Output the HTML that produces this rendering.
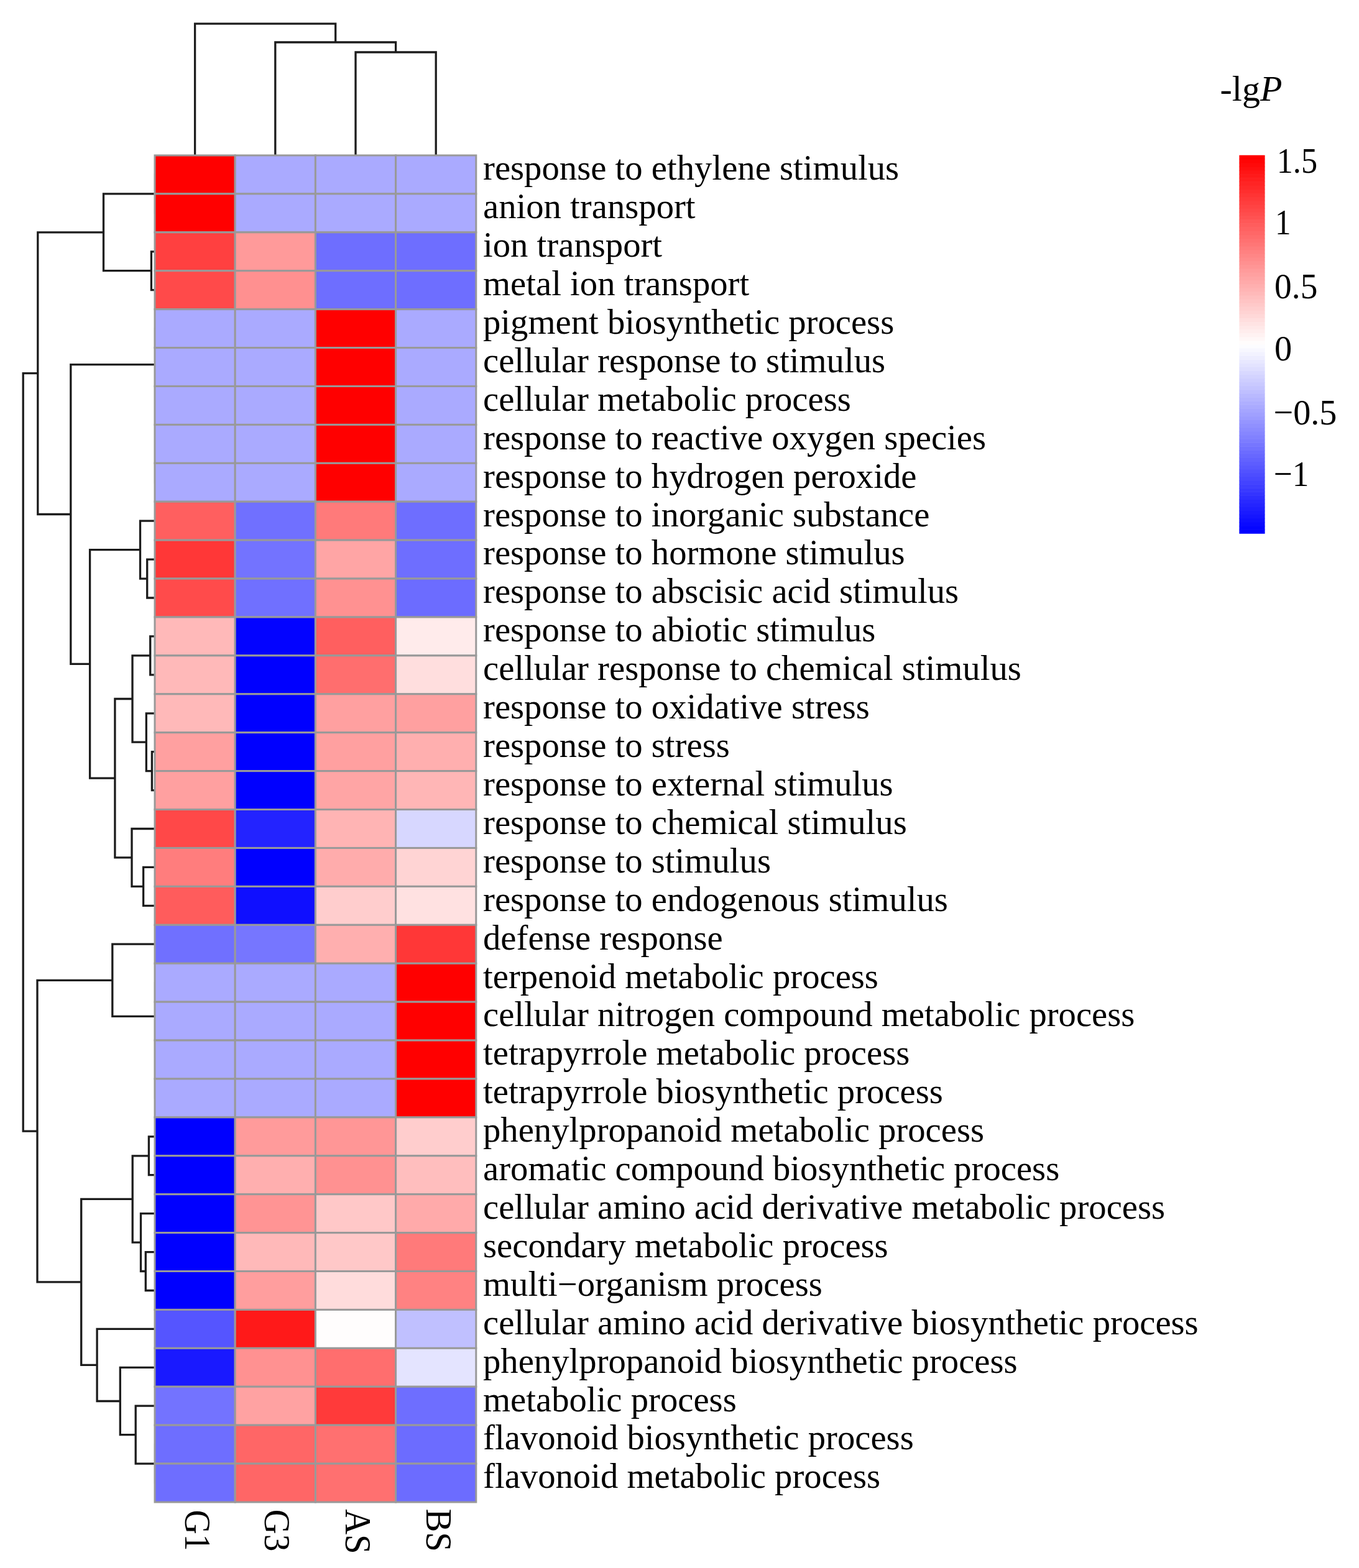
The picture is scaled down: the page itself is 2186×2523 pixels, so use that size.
<!DOCTYPE html><html><head><meta charset="utf-8"><style>html,body{margin:0;padding:0;background:#fff;width:2186px;height:2523px;overflow:hidden}svg{display:block}text{font-family:"Liberation Serif","Times New Roman",serif;fill:#000}</style></head><body>
<svg width="2186" height="2523" viewBox="0 0 2186 2523">
<rect width="2186" height="2523" fill="#fff"/>
<path d="M249.6 281.0L249.6 342.9 M243.4 404.8L249.6 404.8 M243.4 466.7L249.6 466.7 M243.4 404.8L243.4 466.7 M166.5 311.9L249.6 311.9 M166.5 435.7L243.4 435.7 M166.5 311.9L166.5 435.7 M249.6 714.4L249.6 776.3 M249.6 652.4L249.6 745.3 M249.6 590.5L249.6 698.9 M249.6 528.6L249.6 644.7 M236.7 900.1L249.6 900.1 M236.7 962.0L249.6 962.0 M236.7 900.1L236.7 962.0 M225.5 838.2L249.6 838.2 M225.5 931.1L236.7 931.1 M225.5 838.2L225.5 931.1 M241.7 1023.9L249.6 1023.9 M241.7 1085.8L249.6 1085.8 M241.7 1023.9L241.7 1085.8 M244.4 1209.7L249.6 1209.7 M244.4 1271.6L249.6 1271.6 M244.4 1209.7L244.4 1271.6 M235.3 1147.8L249.6 1147.8 M235.3 1240.6L244.4 1240.6 M235.3 1147.8L235.3 1240.6 M213.0 1054.9L241.7 1054.9 M213.0 1194.2L235.3 1194.2 M213.0 1054.9L213.0 1194.2 M230.6 1395.4L249.6 1395.4 M230.6 1457.3L249.6 1457.3 M230.6 1395.4L230.6 1457.3 M212.0 1333.5L249.6 1333.5 M212.0 1426.4L230.6 1426.4 M212.0 1333.5L212.0 1426.4 M184.9 1124.5L213.0 1124.5 M184.9 1379.9L212.0 1379.9 M184.9 1124.5L184.9 1379.9 M144.6 884.6L225.5 884.6 M144.6 1252.2L184.9 1252.2 M144.6 884.6L144.6 1252.2 M113.8 586.7L249.6 586.7 M113.8 1068.4L144.6 1068.4 M113.8 586.7L113.8 1068.4 M60.8 373.8L166.5 373.8 M60.8 827.5L113.8 827.5 M60.8 373.8L60.8 827.5 M249.6 1705.0L249.6 1766.9 M249.6 1643.1L249.6 1735.9 M249.6 1581.2L249.6 1689.5 M180.8 1519.2L249.6 1519.2 M180.8 1635.3L249.6 1635.3 M180.8 1519.2L180.8 1635.3 M239.4 1828.8L249.6 1828.8 M239.4 1890.7L249.6 1890.7 M239.4 1828.8L239.4 1890.7 M234.3 2014.6L249.6 2014.6 M234.3 2076.5L249.6 2076.5 M234.3 2014.6L234.3 2076.5 M226.5 1952.6L249.6 1952.6 M226.5 2045.5L234.3 2045.5 M226.5 1952.6L226.5 2045.5 M213.2 1859.8L239.4 1859.8 M213.2 1999.1L226.5 1999.1 M213.2 1859.8L213.2 1999.1 M249.6 2324.1L249.6 2386.0 M218.2 2262.2L249.6 2262.2 M218.2 2355.1L249.6 2355.1 M218.2 2262.2L218.2 2355.1 M193.3 2200.3L249.6 2200.3 M193.3 2308.6L218.2 2308.6 M193.3 2200.3L193.3 2308.6 M156.1 2138.4L249.6 2138.4 M156.1 2254.5L193.3 2254.5 M156.1 2138.4L156.1 2254.5 M130.7 1929.4L213.2 1929.4 M130.7 2196.4L156.1 2196.4 M130.7 1929.4L130.7 2196.4 M60.0 1577.3L180.8 1577.3 M60.0 2062.9L130.7 2062.9 M60.0 1577.3L60.0 2062.9 M37.2 600.7L60.8 600.7 M37.2 1820.1L60.0 1820.1 M37.2 600.7L37.2 1820.1 M572.0 84.0L572.0 249.0 M701.2 84.0L701.2 249.0 M572.0 84.0L701.2 84.0 M442.8 68.0L442.8 249.0 M636.6 68.0L636.6 84.0 M442.8 68.0L636.6 68.0 M313.6 38.1L313.6 249.0 M539.7 38.1L539.7 68.0 M313.6 38.1L539.7 38.1" fill="none" stroke="#1c1c1c" stroke-width="3.3" stroke-linecap="square"/>
<g stroke="#999" stroke-width="3">
<rect x="249.00" y="250.00" width="129.20" height="61.91" fill="#ff0000"/>
<rect x="378.20" y="250.00" width="129.20" height="61.91" fill="#aaaaff"/>
<rect x="507.40" y="250.00" width="129.20" height="61.91" fill="#aaaaff"/>
<rect x="636.60" y="250.00" width="129.20" height="61.91" fill="#aaaaff"/>
<rect x="249.00" y="311.91" width="129.20" height="61.91" fill="#ff0000"/>
<rect x="378.20" y="311.91" width="129.20" height="61.91" fill="#aaaaff"/>
<rect x="507.40" y="311.91" width="129.20" height="61.91" fill="#aaaaff"/>
<rect x="636.60" y="311.91" width="129.20" height="61.91" fill="#aaaaff"/>
<rect x="249.00" y="373.83" width="129.20" height="61.91" fill="#ff4040"/>
<rect x="378.20" y="373.83" width="129.20" height="61.91" fill="#ff9a9a"/>
<rect x="507.40" y="373.83" width="129.20" height="61.91" fill="#6e6eff"/>
<rect x="636.60" y="373.83" width="129.20" height="61.91" fill="#6e6eff"/>
<rect x="249.00" y="435.74" width="129.20" height="61.91" fill="#ff4a4a"/>
<rect x="378.20" y="435.74" width="129.20" height="61.91" fill="#ff9090"/>
<rect x="507.40" y="435.74" width="129.20" height="61.91" fill="#6e6eff"/>
<rect x="636.60" y="435.74" width="129.20" height="61.91" fill="#6e6eff"/>
<rect x="249.00" y="497.66" width="129.20" height="61.91" fill="#aaaaff"/>
<rect x="378.20" y="497.66" width="129.20" height="61.91" fill="#aaaaff"/>
<rect x="507.40" y="497.66" width="129.20" height="61.91" fill="#ff0000"/>
<rect x="636.60" y="497.66" width="129.20" height="61.91" fill="#aaaaff"/>
<rect x="249.00" y="559.57" width="129.20" height="61.91" fill="#aaaaff"/>
<rect x="378.20" y="559.57" width="129.20" height="61.91" fill="#aaaaff"/>
<rect x="507.40" y="559.57" width="129.20" height="61.91" fill="#ff0000"/>
<rect x="636.60" y="559.57" width="129.20" height="61.91" fill="#aaaaff"/>
<rect x="249.00" y="621.49" width="129.20" height="61.91" fill="#aaaaff"/>
<rect x="378.20" y="621.49" width="129.20" height="61.91" fill="#aaaaff"/>
<rect x="507.40" y="621.49" width="129.20" height="61.91" fill="#ff0000"/>
<rect x="636.60" y="621.49" width="129.20" height="61.91" fill="#aaaaff"/>
<rect x="249.00" y="683.40" width="129.20" height="61.91" fill="#aaaaff"/>
<rect x="378.20" y="683.40" width="129.20" height="61.91" fill="#aaaaff"/>
<rect x="507.40" y="683.40" width="129.20" height="61.91" fill="#ff0000"/>
<rect x="636.60" y="683.40" width="129.20" height="61.91" fill="#aaaaff"/>
<rect x="249.00" y="745.31" width="129.20" height="61.91" fill="#aaaaff"/>
<rect x="378.20" y="745.31" width="129.20" height="61.91" fill="#aaaaff"/>
<rect x="507.40" y="745.31" width="129.20" height="61.91" fill="#ff0000"/>
<rect x="636.60" y="745.31" width="129.20" height="61.91" fill="#aaaaff"/>
<rect x="249.00" y="807.23" width="129.20" height="61.91" fill="#ff5f5f"/>
<rect x="378.20" y="807.23" width="129.20" height="61.91" fill="#7070ff"/>
<rect x="507.40" y="807.23" width="129.20" height="61.91" fill="#ff7a7a"/>
<rect x="636.60" y="807.23" width="129.20" height="61.91" fill="#6e6eff"/>
<rect x="249.00" y="869.14" width="129.20" height="61.91" fill="#ff3737"/>
<rect x="378.20" y="869.14" width="129.20" height="61.91" fill="#7373ff"/>
<rect x="507.40" y="869.14" width="129.20" height="61.91" fill="#ffa5a5"/>
<rect x="636.60" y="869.14" width="129.20" height="61.91" fill="#6e6eff"/>
<rect x="249.00" y="931.06" width="129.20" height="61.91" fill="#ff4b4b"/>
<rect x="378.20" y="931.06" width="129.20" height="61.91" fill="#7070ff"/>
<rect x="507.40" y="931.06" width="129.20" height="61.91" fill="#ff9191"/>
<rect x="636.60" y="931.06" width="129.20" height="61.91" fill="#6c6cff"/>
<rect x="249.00" y="992.97" width="129.20" height="61.91" fill="#ffb9b9"/>
<rect x="378.20" y="992.97" width="129.20" height="61.91" fill="#0303ff"/>
<rect x="507.40" y="992.97" width="129.20" height="61.91" fill="#ff5f5f"/>
<rect x="636.60" y="992.97" width="129.20" height="61.91" fill="#ffebeb"/>
<rect x="249.00" y="1054.89" width="129.20" height="61.91" fill="#ffb9b9"/>
<rect x="378.20" y="1054.89" width="129.20" height="61.91" fill="#0000ff"/>
<rect x="507.40" y="1054.89" width="129.20" height="61.91" fill="#ff6e6e"/>
<rect x="636.60" y="1054.89" width="129.20" height="61.91" fill="#ffdede"/>
<rect x="249.00" y="1116.80" width="129.20" height="61.91" fill="#ffb9b9"/>
<rect x="378.20" y="1116.80" width="129.20" height="61.91" fill="#0000ff"/>
<rect x="507.40" y="1116.80" width="129.20" height="61.91" fill="#ffa0a0"/>
<rect x="636.60" y="1116.80" width="129.20" height="61.91" fill="#ffa0a0"/>
<rect x="249.00" y="1178.71" width="129.20" height="61.91" fill="#ffa0a0"/>
<rect x="378.20" y="1178.71" width="129.20" height="61.91" fill="#0000ff"/>
<rect x="507.40" y="1178.71" width="129.20" height="61.91" fill="#ffa0a0"/>
<rect x="636.60" y="1178.71" width="129.20" height="61.91" fill="#ffafaf"/>
<rect x="249.00" y="1240.63" width="129.20" height="61.91" fill="#ffa0a0"/>
<rect x="378.20" y="1240.63" width="129.20" height="61.91" fill="#0000ff"/>
<rect x="507.40" y="1240.63" width="129.20" height="61.91" fill="#ffa5a5"/>
<rect x="636.60" y="1240.63" width="129.20" height="61.91" fill="#ffb6b6"/>
<rect x="249.00" y="1302.54" width="129.20" height="61.91" fill="#ff4848"/>
<rect x="378.20" y="1302.54" width="129.20" height="61.91" fill="#2323ff"/>
<rect x="507.40" y="1302.54" width="129.20" height="61.91" fill="#ffb4b4"/>
<rect x="636.60" y="1302.54" width="129.20" height="61.91" fill="#d7d7ff"/>
<rect x="249.00" y="1364.46" width="129.20" height="61.91" fill="#ff7d7d"/>
<rect x="378.20" y="1364.46" width="129.20" height="61.91" fill="#0000ff"/>
<rect x="507.40" y="1364.46" width="129.20" height="61.91" fill="#ffacac"/>
<rect x="636.60" y="1364.46" width="129.20" height="61.91" fill="#ffd4d4"/>
<rect x="249.00" y="1426.37" width="129.20" height="61.91" fill="#ff5c5c"/>
<rect x="378.20" y="1426.37" width="129.20" height="61.91" fill="#0f0fff"/>
<rect x="507.40" y="1426.37" width="129.20" height="61.91" fill="#ffcdcd"/>
<rect x="636.60" y="1426.37" width="129.20" height="61.91" fill="#ffe1e1"/>
<rect x="249.00" y="1488.29" width="129.20" height="61.91" fill="#7070ff"/>
<rect x="378.20" y="1488.29" width="129.20" height="61.91" fill="#7676ff"/>
<rect x="507.40" y="1488.29" width="129.20" height="61.91" fill="#ffafaf"/>
<rect x="636.60" y="1488.29" width="129.20" height="61.91" fill="#ff3737"/>
<rect x="249.00" y="1550.20" width="129.20" height="61.91" fill="#aaaaff"/>
<rect x="378.20" y="1550.20" width="129.20" height="61.91" fill="#aaaaff"/>
<rect x="507.40" y="1550.20" width="129.20" height="61.91" fill="#aaaaff"/>
<rect x="636.60" y="1550.20" width="129.20" height="61.91" fill="#ff0000"/>
<rect x="249.00" y="1612.11" width="129.20" height="61.91" fill="#aaaaff"/>
<rect x="378.20" y="1612.11" width="129.20" height="61.91" fill="#aaaaff"/>
<rect x="507.40" y="1612.11" width="129.20" height="61.91" fill="#aaaaff"/>
<rect x="636.60" y="1612.11" width="129.20" height="61.91" fill="#ff0000"/>
<rect x="249.00" y="1674.03" width="129.20" height="61.91" fill="#aaaaff"/>
<rect x="378.20" y="1674.03" width="129.20" height="61.91" fill="#aaaaff"/>
<rect x="507.40" y="1674.03" width="129.20" height="61.91" fill="#aaaaff"/>
<rect x="636.60" y="1674.03" width="129.20" height="61.91" fill="#ff0000"/>
<rect x="249.00" y="1735.94" width="129.20" height="61.91" fill="#aaaaff"/>
<rect x="378.20" y="1735.94" width="129.20" height="61.91" fill="#aaaaff"/>
<rect x="507.40" y="1735.94" width="129.20" height="61.91" fill="#aaaaff"/>
<rect x="636.60" y="1735.94" width="129.20" height="61.91" fill="#ff0000"/>
<rect x="249.00" y="1797.86" width="129.20" height="61.91" fill="#0000ff"/>
<rect x="378.20" y="1797.86" width="129.20" height="61.91" fill="#ff9b9b"/>
<rect x="507.40" y="1797.86" width="129.20" height="61.91" fill="#ff9696"/>
<rect x="636.60" y="1797.86" width="129.20" height="61.91" fill="#ffcdcd"/>
<rect x="249.00" y="1859.77" width="129.20" height="61.91" fill="#0000ff"/>
<rect x="378.20" y="1859.77" width="129.20" height="61.91" fill="#ffafaf"/>
<rect x="507.40" y="1859.77" width="129.20" height="61.91" fill="#ff9191"/>
<rect x="636.60" y="1859.77" width="129.20" height="61.91" fill="#ffbebe"/>
<rect x="249.00" y="1921.69" width="129.20" height="61.91" fill="#0000ff"/>
<rect x="378.20" y="1921.69" width="129.20" height="61.91" fill="#ff9494"/>
<rect x="507.40" y="1921.69" width="129.20" height="61.91" fill="#ffc8c8"/>
<rect x="636.60" y="1921.69" width="129.20" height="61.91" fill="#ffaaaa"/>
<rect x="249.00" y="1983.60" width="129.20" height="61.91" fill="#0000ff"/>
<rect x="378.20" y="1983.60" width="129.20" height="61.91" fill="#ffb9b9"/>
<rect x="507.40" y="1983.60" width="129.20" height="61.91" fill="#ffc8c8"/>
<rect x="636.60" y="1983.60" width="129.20" height="61.91" fill="#ff7a7a"/>
<rect x="249.00" y="2045.51" width="129.20" height="61.91" fill="#0000ff"/>
<rect x="378.20" y="2045.51" width="129.20" height="61.91" fill="#ff9e9e"/>
<rect x="507.40" y="2045.51" width="129.20" height="61.91" fill="#ffdcdc"/>
<rect x="636.60" y="2045.51" width="129.20" height="61.91" fill="#ff8282"/>
<rect x="249.00" y="2107.43" width="129.20" height="61.91" fill="#5555ff"/>
<rect x="378.20" y="2107.43" width="129.20" height="61.91" fill="#ff1919"/>
<rect x="507.40" y="2107.43" width="129.20" height="61.91" fill="#fffdfd"/>
<rect x="636.60" y="2107.43" width="129.20" height="61.91" fill="#c0c0ff"/>
<rect x="249.00" y="2169.34" width="129.20" height="61.91" fill="#1919ff"/>
<rect x="378.20" y="2169.34" width="129.20" height="61.91" fill="#ff9191"/>
<rect x="507.40" y="2169.34" width="129.20" height="61.91" fill="#ff6e6e"/>
<rect x="636.60" y="2169.34" width="129.20" height="61.91" fill="#e4e4ff"/>
<rect x="249.00" y="2231.26" width="129.20" height="61.91" fill="#7373ff"/>
<rect x="378.20" y="2231.26" width="129.20" height="61.91" fill="#ffa2a2"/>
<rect x="507.40" y="2231.26" width="129.20" height="61.91" fill="#ff3a3a"/>
<rect x="636.60" y="2231.26" width="129.20" height="61.91" fill="#6e6eff"/>
<rect x="249.00" y="2293.17" width="129.20" height="61.91" fill="#6e6eff"/>
<rect x="378.20" y="2293.17" width="129.20" height="61.91" fill="#ff6666"/>
<rect x="507.40" y="2293.17" width="129.20" height="61.91" fill="#ff7070"/>
<rect x="636.60" y="2293.17" width="129.20" height="61.91" fill="#6c6cff"/>
<rect x="249.00" y="2355.09" width="129.20" height="61.91" fill="#6e6eff"/>
<rect x="378.20" y="2355.09" width="129.20" height="61.91" fill="#ff6666"/>
<rect x="507.40" y="2355.09" width="129.20" height="61.91" fill="#ff7070"/>
<rect x="636.60" y="2355.09" width="129.20" height="61.91" fill="#6c6cff"/>
</g>
<g font-size="56.7">
<text x="777.0" y="289.3">response to ethylene stimulus</text>
<text x="777.0" y="351.2">anion transport</text>
<text x="777.0" y="413.1">ion transport</text>
<text x="777.0" y="475.0">metal ion transport</text>
<text x="777.0" y="536.9">pigment biosynthetic process</text>
<text x="777.0" y="598.8">cellular response to stimulus</text>
<text x="777.0" y="660.7">cellular metabolic process</text>
<text x="777.0" y="722.7">response to reactive oxygen species</text>
<text x="777.0" y="784.6">response to hydrogen peroxide</text>
<text x="777.0" y="846.5">response to inorganic substance</text>
<text x="777.0" y="908.4">response to hormone stimulus</text>
<text x="777.0" y="970.3">response to abscisic acid stimulus</text>
<text x="777.0" y="1032.2">response to abiotic stimulus</text>
<text x="777.0" y="1094.1">cellular response to chemical stimulus</text>
<text x="777.0" y="1156.1">response to oxidative stress</text>
<text x="777.0" y="1218.0">response to stress</text>
<text x="777.0" y="1279.9">response to external stimulus</text>
<text x="777.0" y="1341.8">response to chemical stimulus</text>
<text x="777.0" y="1403.7">response to stimulus</text>
<text x="777.0" y="1465.6">response to endogenous stimulus</text>
<text x="777.0" y="1527.5">defense response</text>
<text x="777.0" y="1589.5">terpenoid metabolic process</text>
<text x="777.0" y="1651.4">cellular nitrogen compound metabolic process</text>
<text x="777.0" y="1713.3">tetrapyrrole metabolic process</text>
<text x="777.0" y="1775.2">tetrapyrrole biosynthetic process</text>
<text x="777.0" y="1837.1">phenylpropanoid metabolic process</text>
<text x="777.0" y="1899.0">aromatic compound biosynthetic process</text>
<text x="777.0" y="1960.9">cellular amino acid derivative metabolic process</text>
<text x="777.0" y="2022.9">secondary metabolic process</text>
<text x="777.0" y="2084.8">multi−organism process</text>
<text x="777.0" y="2146.7">cellular amino acid derivative biosynthetic process</text>
<text x="777.0" y="2208.6">phenylpropanoid biosynthetic process</text>
<text x="777.0" y="2270.5">metabolic process</text>
<text x="777.0" y="2332.4">flavonoid biosynthetic process</text>
<text x="777.0" y="2394.3">flavonoid metabolic process</text>
</g>
<text font-size="59" transform="translate(298.2,2429.4) rotate(90) scale(0.917,1)">G1</text>
<text font-size="59" transform="translate(426.3,2428.8) rotate(90) scale(0.935,1)">G3</text>
<text font-size="59" transform="translate(555.9,2428.3) rotate(90) scale(0.958,1)">AS</text>
<text font-size="59" transform="translate(685.5,2427.4) rotate(90) scale(0.961,1)">BS</text>
<rect x="1993.4" y="852.12" width="41.2" height="6.68" fill="#0000ff"/>
<rect x="1993.4" y="846.03" width="41.2" height="6.68" fill="#0505ff"/>
<rect x="1993.4" y="839.95" width="41.2" height="6.68" fill="#0a0aff"/>
<rect x="1993.4" y="833.86" width="41.2" height="6.68" fill="#0f0fff"/>
<rect x="1993.4" y="827.78" width="41.2" height="6.68" fill="#1515ff"/>
<rect x="1993.4" y="821.69" width="41.2" height="6.68" fill="#1a1aff"/>
<rect x="1993.4" y="815.61" width="41.2" height="6.68" fill="#1f1fff"/>
<rect x="1993.4" y="809.52" width="41.2" height="6.68" fill="#2424ff"/>
<rect x="1993.4" y="803.44" width="41.2" height="6.68" fill="#2929ff"/>
<rect x="1993.4" y="797.35" width="41.2" height="6.68" fill="#2e2eff"/>
<rect x="1993.4" y="791.27" width="41.2" height="6.68" fill="#3434ff"/>
<rect x="1993.4" y="785.18" width="41.2" height="6.68" fill="#3939ff"/>
<rect x="1993.4" y="779.10" width="41.2" height="6.68" fill="#3e3eff"/>
<rect x="1993.4" y="773.01" width="41.2" height="6.68" fill="#4343ff"/>
<rect x="1993.4" y="766.93" width="41.2" height="6.68" fill="#4848ff"/>
<rect x="1993.4" y="760.84" width="41.2" height="6.68" fill="#4d4dff"/>
<rect x="1993.4" y="754.76" width="41.2" height="6.68" fill="#5252ff"/>
<rect x="1993.4" y="748.67" width="41.2" height="6.68" fill="#5858ff"/>
<rect x="1993.4" y="742.59" width="41.2" height="6.68" fill="#5d5dff"/>
<rect x="1993.4" y="736.50" width="41.2" height="6.68" fill="#6262ff"/>
<rect x="1993.4" y="730.42" width="41.2" height="6.68" fill="#6767ff"/>
<rect x="1993.4" y="724.33" width="41.2" height="6.68" fill="#6c6cff"/>
<rect x="1993.4" y="718.25" width="41.2" height="6.68" fill="#7171ff"/>
<rect x="1993.4" y="712.16" width="41.2" height="6.68" fill="#7676ff"/>
<rect x="1993.4" y="706.08" width="41.2" height="6.68" fill="#7c7cff"/>
<rect x="1993.4" y="699.99" width="41.2" height="6.68" fill="#8181ff"/>
<rect x="1993.4" y="693.91" width="41.2" height="6.68" fill="#8686ff"/>
<rect x="1993.4" y="687.82" width="41.2" height="6.68" fill="#8b8bff"/>
<rect x="1993.4" y="681.74" width="41.2" height="6.68" fill="#9090ff"/>
<rect x="1993.4" y="675.65" width="41.2" height="6.68" fill="#9595ff"/>
<rect x="1993.4" y="669.57" width="41.2" height="6.68" fill="#9b9bff"/>
<rect x="1993.4" y="663.48" width="41.2" height="6.68" fill="#a0a0ff"/>
<rect x="1993.4" y="657.39" width="41.2" height="6.68" fill="#a5a5ff"/>
<rect x="1993.4" y="651.31" width="41.2" height="6.68" fill="#aaaaff"/>
<rect x="1993.4" y="645.23" width="41.2" height="6.68" fill="#afafff"/>
<rect x="1993.4" y="639.14" width="41.2" height="6.68" fill="#b4b4ff"/>
<rect x="1993.4" y="633.06" width="41.2" height="6.68" fill="#b9b9ff"/>
<rect x="1993.4" y="626.97" width="41.2" height="6.68" fill="#bfbfff"/>
<rect x="1993.4" y="620.88" width="41.2" height="6.68" fill="#c4c4ff"/>
<rect x="1993.4" y="614.80" width="41.2" height="6.68" fill="#c9c9ff"/>
<rect x="1993.4" y="608.72" width="41.2" height="6.68" fill="#ceceff"/>
<rect x="1993.4" y="602.63" width="41.2" height="6.68" fill="#d3d3ff"/>
<rect x="1993.4" y="596.55" width="41.2" height="6.68" fill="#d8d8ff"/>
<rect x="1993.4" y="590.46" width="41.2" height="6.68" fill="#dedeff"/>
<rect x="1993.4" y="584.38" width="41.2" height="6.68" fill="#e3e3ff"/>
<rect x="1993.4" y="578.29" width="41.2" height="6.68" fill="#e8e8ff"/>
<rect x="1993.4" y="572.21" width="41.2" height="6.68" fill="#ededff"/>
<rect x="1993.4" y="566.12" width="41.2" height="6.68" fill="#f2f2ff"/>
<rect x="1993.4" y="560.04" width="41.2" height="6.68" fill="#f7f7ff"/>
<rect x="1993.4" y="553.95" width="41.2" height="6.68" fill="#fcfcff"/>
<rect x="1993.4" y="547.87" width="41.2" height="6.68" fill="#fffcfc"/>
<rect x="1993.4" y="541.78" width="41.2" height="6.68" fill="#fff7f7"/>
<rect x="1993.4" y="535.70" width="41.2" height="6.68" fill="#fff2f2"/>
<rect x="1993.4" y="529.61" width="41.2" height="6.68" fill="#ffeded"/>
<rect x="1993.4" y="523.53" width="41.2" height="6.68" fill="#ffe8e8"/>
<rect x="1993.4" y="517.44" width="41.2" height="6.68" fill="#ffe3e3"/>
<rect x="1993.4" y="511.36" width="41.2" height="6.68" fill="#ffdede"/>
<rect x="1993.4" y="505.27" width="41.2" height="6.68" fill="#ffd8d8"/>
<rect x="1993.4" y="499.19" width="41.2" height="6.68" fill="#ffd3d3"/>
<rect x="1993.4" y="493.10" width="41.2" height="6.68" fill="#ffcece"/>
<rect x="1993.4" y="487.02" width="41.2" height="6.68" fill="#ffc9c9"/>
<rect x="1993.4" y="480.93" width="41.2" height="6.68" fill="#ffc4c4"/>
<rect x="1993.4" y="474.85" width="41.2" height="6.68" fill="#ffbfbf"/>
<rect x="1993.4" y="468.76" width="41.2" height="6.68" fill="#ffb9b9"/>
<rect x="1993.4" y="462.68" width="41.2" height="6.68" fill="#ffb4b4"/>
<rect x="1993.4" y="456.59" width="41.2" height="6.68" fill="#ffafaf"/>
<rect x="1993.4" y="450.51" width="41.2" height="6.68" fill="#ffaaaa"/>
<rect x="1993.4" y="444.42" width="41.2" height="6.68" fill="#ffa5a5"/>
<rect x="1993.4" y="438.34" width="41.2" height="6.68" fill="#ffa0a0"/>
<rect x="1993.4" y="432.25" width="41.2" height="6.68" fill="#ff9b9b"/>
<rect x="1993.4" y="426.17" width="41.2" height="6.68" fill="#ff9595"/>
<rect x="1993.4" y="420.08" width="41.2" height="6.68" fill="#ff9090"/>
<rect x="1993.4" y="414.00" width="41.2" height="6.68" fill="#ff8b8b"/>
<rect x="1993.4" y="407.91" width="41.2" height="6.68" fill="#ff8686"/>
<rect x="1993.4" y="401.83" width="41.2" height="6.68" fill="#ff8181"/>
<rect x="1993.4" y="395.74" width="41.2" height="6.68" fill="#ff7c7c"/>
<rect x="1993.4" y="389.66" width="41.2" height="6.68" fill="#ff7676"/>
<rect x="1993.4" y="383.57" width="41.2" height="6.68" fill="#ff7171"/>
<rect x="1993.4" y="377.49" width="41.2" height="6.68" fill="#ff6c6c"/>
<rect x="1993.4" y="371.40" width="41.2" height="6.68" fill="#ff6767"/>
<rect x="1993.4" y="365.32" width="41.2" height="6.68" fill="#ff6262"/>
<rect x="1993.4" y="359.23" width="41.2" height="6.68" fill="#ff5d5d"/>
<rect x="1993.4" y="353.15" width="41.2" height="6.68" fill="#ff5858"/>
<rect x="1993.4" y="347.06" width="41.2" height="6.68" fill="#ff5252"/>
<rect x="1993.4" y="340.98" width="41.2" height="6.68" fill="#ff4d4d"/>
<rect x="1993.4" y="334.89" width="41.2" height="6.68" fill="#ff4848"/>
<rect x="1993.4" y="328.81" width="41.2" height="6.68" fill="#ff4343"/>
<rect x="1993.4" y="322.72" width="41.2" height="6.68" fill="#ff3e3e"/>
<rect x="1993.4" y="316.64" width="41.2" height="6.68" fill="#ff3939"/>
<rect x="1993.4" y="310.55" width="41.2" height="6.68" fill="#ff3434"/>
<rect x="1993.4" y="304.47" width="41.2" height="6.68" fill="#ff2e2e"/>
<rect x="1993.4" y="298.38" width="41.2" height="6.68" fill="#ff2929"/>
<rect x="1993.4" y="292.30" width="41.2" height="6.68" fill="#ff2424"/>
<rect x="1993.4" y="286.21" width="41.2" height="6.68" fill="#ff1f1f"/>
<rect x="1993.4" y="280.12" width="41.2" height="6.68" fill="#ff1a1a"/>
<rect x="1993.4" y="274.04" width="41.2" height="6.68" fill="#ff1515"/>
<rect x="1993.4" y="267.96" width="41.2" height="6.68" fill="#ff0f0f"/>
<rect x="1993.4" y="261.87" width="41.2" height="6.68" fill="#ff0a0a"/>
<rect x="1993.4" y="255.79" width="41.2" height="6.68" fill="#ff0505"/>
<rect x="1993.4" y="249.70" width="41.2" height="6.68" fill="#ff0000"/>
<text font-size="58" transform="translate(2053.7,277.6) scale(0.902,1)">1.5</text>
<text font-size="58" transform="translate(2051.1,377.4) scale(0.880,1)">1</text>
<text font-size="58" transform="translate(2050.1,480.1) scale(0.955,1)">0.5</text>
<text font-size="58" transform="translate(2050.1,579.8) scale(0.972,1)">0</text>
<text font-size="58" transform="translate(2048.5,682.7) scale(0.969,1)">−0.5</text>
<text font-size="58" transform="translate(2048.7,782.4) scale(0.919,1)">−1</text>
<text font-size="58" x="1962.5" y="161.6">-lg<tspan font-style="italic">P</tspan></text>
</svg></body></html>
